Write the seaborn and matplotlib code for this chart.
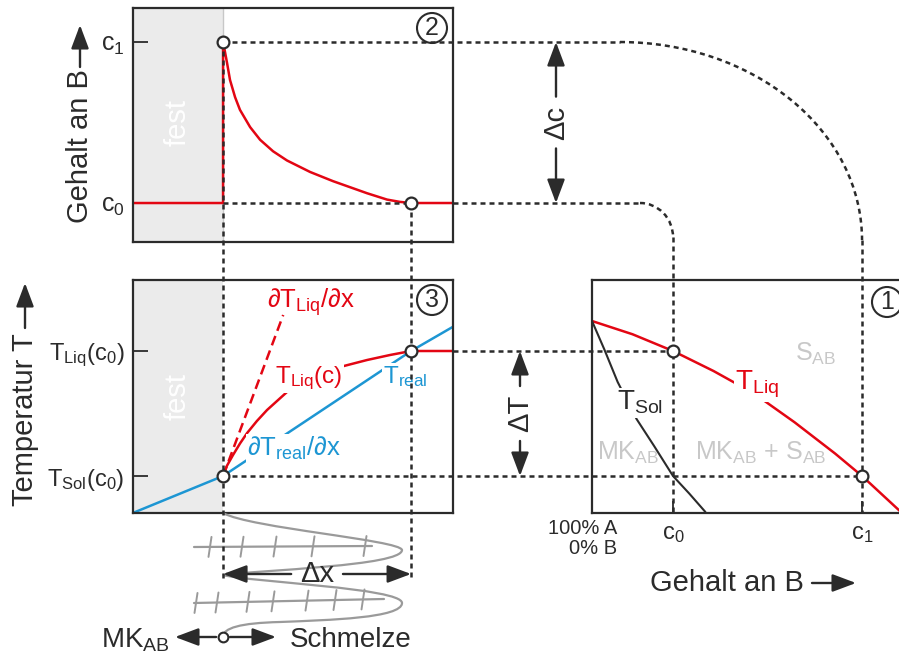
import matplotlib
matplotlib.use("Agg")
import matplotlib.pyplot as plt
import seaborn as sns
from matplotlib.patches import Arc, PathPatch
from matplotlib.path import Path

# =================================================
# 1. Values
# =================================================

c0, c1 = 6.0, 20.0                    # Gehalt an B (%)
T_sol_c0, T_liq_c0 = 1350.0, 1400.0   # Temperatur
dx_front = 1.0                        # Abstand Grenzflaeche -> T_Liq(c0)

# panel 1: phase diagram (composition, temperature)
liq_c = [0, 3, 6, 9, 12, 15, 18, 20, 23]
liq_T = [1412, 1406.7, 1400, 1392, 1383, 1371.5, 1359, 1350, 1335]
sol_c = [0, 0.9, 1.9, 3.3, 4.6, 6.0, 7.2, 8.4]
sol_T = [1412, 1400.8, 1387.6, 1372.8, 1362, 1350, 1343, 1335.6]

# panel 2: concentration profile ahead of the interface
prof_x = [-0.48, 0, 0, 0.005, 0.021, 0.037, 0.064, 0.09, 0.144, 0.197,
          0.266, 0.34, 0.463, 0.585, 0.766, 0.872, 0.94, 1.0, 1.23]
prof_c = [c0, c0, c1, 19.6, 18.2, 16.7, 15.2, 14.1, 12.6, 11.5,
          10.5, 9.7, 8.7, 7.9, 6.85, 6.3, 6.1, 6.0, 6.0]

# panel 3: liquidus and real temperature
tliq_x = [0, 0.02, 0.053, 0.09, 0.128, 0.18, 0.234, 0.34, 0.48, 0.622,
          0.766, 0.888, 1.0, 1.23]
tliq_T = [1350, 1354, 1358.4, 1363, 1367.2, 1372, 1376.4, 1383.6, 1389,
          1393.6, 1396.4, 1398.4, 1400, 1400]
treal_x = [-0.48, 0, 1.0, 1.23]
treal_T = [1335.2, 1350, 1400, 1410]
tangent_x = [0, 0.32]
tangent_T = [1350, 1414.4]

# sketch of the dendrite below panel 3 (figure pixels)
snake_xy = [(223, 513),
            (250, 528), (400, 540), (402, 550),
            (402, 566), (260, 570), (223, 575),
            (250, 582), (402, 588), (402, 603),
            (402, 618), (330, 620), (280, 622),
            (240, 623), (223, 628), (223, 637)]
ruler1_x, ruler1_y = [194, 372], [547, 546]
ruler1_ticks = [210, 242, 275, 313, 365]
ruler2_x, ruler2_y = [194, 384], [603, 599]
ruler2_ticks = [196, 217, 248, 273, 307, 335, 363]

# =================================================
# 2. Style
# =================================================

sns.set_theme(style="white")
plt.rcParams["font.family"] = ["Liberation Sans", "DejaVu Sans"]
plt.rcParams["mathtext.fontset"] = "custom"
plt.rcParams["mathtext.rm"] = "Liberation Sans"
plt.rcParams["mathtext.it"] = "Liberation Sans:italic"
plt.rcParams["mathtext.default"] = "regular"

INK = "#2b2b2b"
RED = "#e30613"
BLUE = "#1d96d3"
LIGHT = "#c8c8c8"
FEST = "#ebebeb"
SKETCH = "#9a9a9a"

W, H = 899, 652
x_lim = (-0.479, 1.223)
c_lim = (2.61, 22.96)
T_lim = (1335.2, 1428.4)
comp_lim = (0.0, 23.7)

fig = plt.figure(figsize=(W / 100, H / 100), dpi=100)


def box(left, top, width, height):
    return [left / W, (H - top - height) / H, width / W, height / H]


ax2 = fig.add_axes(box(133, 8, 320, 234))
ax3 = fig.add_axes(box(133, 280, 320, 233))
ax1 = fig.add_axes(box(592, 280, 320, 233))
over = fig.add_axes([0, 0, 1, 1], zorder=10)
over.set_xlim(0, W)
over.set_ylim(H, 0)
over.axis("off")
over.patch.set_alpha(0)

for ax in (ax1, ax2, ax3):
    for s in ax.spines.values():
        s.set_color(INK)
        s.set_linewidth(1.6)

ax2.set_xlim(*x_lim)
ax2.set_ylim(*c_lim)
ax3.set_xlim(*x_lim)
ax3.set_ylim(*T_lim)
ax1.set_xlim(*comp_lim)
ax1.set_ylim(*T_lim)

# =================================================
# 3. Panels
# =================================================

line_kw = dict(sort=False, estimator=None, legend=False)

# panel 2
ax2.axvspan(x_lim[0], 0, color=FEST, lw=0, zorder=0)
ax2.axvline(0, color=LIGHT, lw=1, zorder=0.5)
sns.lineplot(x=prof_x, y=prof_c, ax=ax2, color=RED, lw=1.8, **line_kw)
ax2.set_xticks([])
ax2.set_yticks([c0, c1], ["c$_0$", "c$_1$"])
ax2.tick_params(axis="y", left=True, direction="in", length=11, width=1.3,
                color=INK, pad=6, labelsize=18, labelcolor=INK)

# panel 3
ax3.axvspan(x_lim[0], 0, color=FEST, lw=0, zorder=0)
sns.lineplot(x=treal_x, y=treal_T, ax=ax3, color=BLUE, lw=1.8, **line_kw)
sns.lineplot(x=tliq_x, y=tliq_T, ax=ax3, color=RED, lw=1.8, **line_kw)
ax3.plot(tangent_x, tangent_T, color=RED, lw=1.8, ls=(0, (4, 2.2)))
ax3.set_xticks([])
ax3.set_yticks([T_sol_c0, T_liq_c0],
               ["T$_{Sol}$(c$_0$)", "T$_{Liq}$(c$_0$)"])
ax3.tick_params(axis="y", left=True, direction="in", length=11, width=1.3,
                color=INK, pad=6, labelsize=17, labelcolor=INK)

# panel 1
sns.lineplot(x=liq_c, y=liq_T, ax=ax1, color=RED, lw=1.8, **line_kw)
sns.lineplot(x=sol_c, y=sol_T, ax=ax1, color=INK, lw=1.5, **line_kw)
ax1.set_yticks([])
ax1.set_xticks([c0, c1], ["c$_0$", "c$_1$"])
ax1.tick_params(axis="x", bottom=True, direction="in", length=9, width=1.3,
                color=INK, pad=7, labelsize=17, labelcolor=INK)


# =================================================
# 4. Connectors between the panels (figure pixels)
# =================================================

def to_over(ax, x, y):
    return over.transData.inverted().transform(ax.transData.transform((x, y)))


X0, Yc1 = to_over(ax2, 0, c1)
X1, Yc0 = to_over(ax2, dx_front, c0)
_, Yliq = to_over(ax3, 0, T_liq_c0)
_, Ysol = to_over(ax3, 0, T_sol_c0)
Xc0, _ = to_over(ax1, c0, T_lim[0])
Xc1, Ybot1 = to_over(ax1, c1, T_lim[0])
Xr, _ = to_over(ax2, x_lim[1], c0)

DASH_STYLE = (0, (2.0, 1.6))
DASH = dict(color=INK, lw=1.8, ls=DASH_STYLE, dash_capstyle="butt", zorder=4)
y_end = 580

over.plot([X0, X0], [Yc1, y_end], **DASH)
over.plot([X1, X1], [Yc0, y_end], **DASH)

# c1 connector
turn1 = (620, 240)
over.plot([X0, turn1[0]], [Yc1, Yc1], **DASH)
over.add_patch(Arc(turn1, 2 * (Xc1 - turn1[0]), 2 * (turn1[1] - Yc1),
                   theta1=270, theta2=360, color=INK, lw=1.8,
                   ls=DASH_STYLE, zorder=4))
over.plot([Xc1, Xc1], [turn1[1], Ybot1], **DASH)

# c0 connector
turn0 = (640, Yc0 + 34)
over.plot([X0, X1], [Yc0, Yc0], **DASH)
over.plot([Xr, turn0[0]], [Yc0, Yc0], **DASH)
over.add_patch(Arc(turn0, 2 * (Xc0 - turn0[0]), 2 * 34,
                   theta1=270, theta2=360, color=INK, lw=1.8,
                   ls=DASH_STYLE, zorder=4))
over.plot([Xc0, Xc0], [turn0[1], Ybot1], **DASH)

# temperature levels
over.plot([Xr, Xc0], [Yliq, Yliq], **DASH)
over.plot([X0, Xc1], [Ysol, Ysol], **DASH)

# circles
over.plot([X0, X1, X0, X1, Xc0, Xc1], [Yc1, Yc0, Ysol, Yliq, Yliq, Ysol],
          ls="none", marker="o", ms=8.5, mfc="white", mec=INK, mew=1.6, zorder=6)

# =================================================
# 5. Arrows and labels
# =================================================

AR = dict(arrowstyle="-|>,head_length=0.8,head_width=0.3", color=INK, lw=1.7,
          mutation_scale=18, shrinkA=4, shrinkB=0)


def dim_arrow(p, q, label, rotation=0):
    mid = ((p[0] + q[0]) / 2, (p[1] + q[1]) / 2)
    for end, col in ((p, INK), (q, "none")):
        over.annotate(label, xy=end, xytext=mid, ha="center", va="center",
                      rotation=rotation, fontsize=21, color=col,
                      arrowprops=AR, zorder=5)


def plain_arrow(p, q):
    over.annotate("", xy=q, xytext=p, arrowprops=dict(AR, shrinkA=0), zorder=5)


dim_arrow((556, Yc1), (556, Yc0), "Δc", rotation=90)
dim_arrow((520, Yliq), (520, Ysol), "ΔT", rotation=90)
dim_arrow((X0, 574), (X1, 574), "Δx")

# axis titles
over.text(80, 146, "Gehalt an B", rotation=90, ha="center", va="center",
          fontsize=21, color=INK)
plain_arrow((80, 67), (80, 25))
over.text(25, 420, "Temperatur T", rotation=90, ha="center", va="center",
          fontsize=21, color=INK)
plain_arrow((25, 328), (25, 283))
over.text(727, 583, "Gehalt an B", ha="center", va="center", fontsize=21, color=INK)
plain_arrow((812, 583), (856, 583))
over.text(617, 519, "100% A\n0% B", ha="right", va="top", fontsize=14.5,
          color=INK, linespacing=1.05, multialignment="right")

# circled panel numbers
for (x, y), num in zip([(432, 28), (432, 300), (887, 302)], ["2", "3", "1"]):
    over.text(x, y, num, ha="center", va="center", fontsize=18, color=INK,
              bbox=dict(boxstyle="circle,pad=0.12", fc="white", ec=INK, lw=1.5))

# fest
for y in (123, 397):
    over.text(178, y, "fest", rotation=90, ha="center", va="center",
              fontsize=21, color="white")

WHITE = dict(fc="white", ec="none", pad=1)

# panel 3 labels
over.text(267, 308, "∂T$_{Liq}$/∂x", fontsize=18.5, color=RED)
over.text(275, 383, "T$_{Liq}$(c)", fontsize=17.5, color=RED, bbox=WHITE)
over.text(383, 383, "T$_{real}$", fontsize=17.5, color=BLUE, bbox=WHITE)
over.text(247, 456, "∂T$_{real}$/∂x", fontsize=18.5, color=BLUE, bbox=WHITE)

# panel 1 labels
over.text(795, 361, "S$_{AB}$", fontsize=18, color=LIGHT)
over.text(735, 390, "T$_{Liq}$", fontsize=20, color=RED, bbox=WHITE)
over.text(617, 410, "T$_{Sol}$", fontsize=20, color=INK, bbox=WHITE)
over.text(597, 460, "MK$_{AB}$", fontsize=18, color=LIGHT)
over.text(695, 460, "MK$_{AB}$ + S$_{AB}$", fontsize=18, color=LIGHT)

# =================================================
# 6. Dendrite sketch
# =================================================

codes = [Path.MOVETO] + [Path.CURVE4] * (len(snake_xy) - 1)
over.add_patch(PathPatch(Path(snake_xy, codes), fc="none", ec=SKETCH, lw=1.6, zorder=2))
for xs, ys, ticks in ((ruler1_x, ruler1_y, ruler1_ticks), (ruler2_x, ruler2_y, ruler2_ticks)):
    over.plot(xs, ys, color=SKETCH, lw=1.6, zorder=2)
    for t in ticks:
        yc = ys[0] + (ys[1] - ys[0]) * (t - xs[0]) / (xs[1] - xs[0])
        over.plot([t - 1.5, t + 1.5], [yc + 10, yc - 10], color=SKETCH, lw=1.4, zorder=2)

over.plot([X0], [637], ls="none", marker="o", ms=7, mfc="white", mec=INK, mew=1.5, zorder=6)
over.annotate("", xy=(175, 637), xytext=(X0, 637), arrowprops=dict(AR, shrinkA=5), zorder=5)
over.annotate("", xy=(276, 637), xytext=(X0, 637), arrowprops=dict(AR, shrinkA=5), zorder=5)
over.text(170, 647, "MK$_{AB}$", ha="right", fontsize=20, color=INK)
over.text(290, 647, "Schmelze", ha="left", fontsize=20, color=INK)

fig.savefig("out.png", dpi=100)
